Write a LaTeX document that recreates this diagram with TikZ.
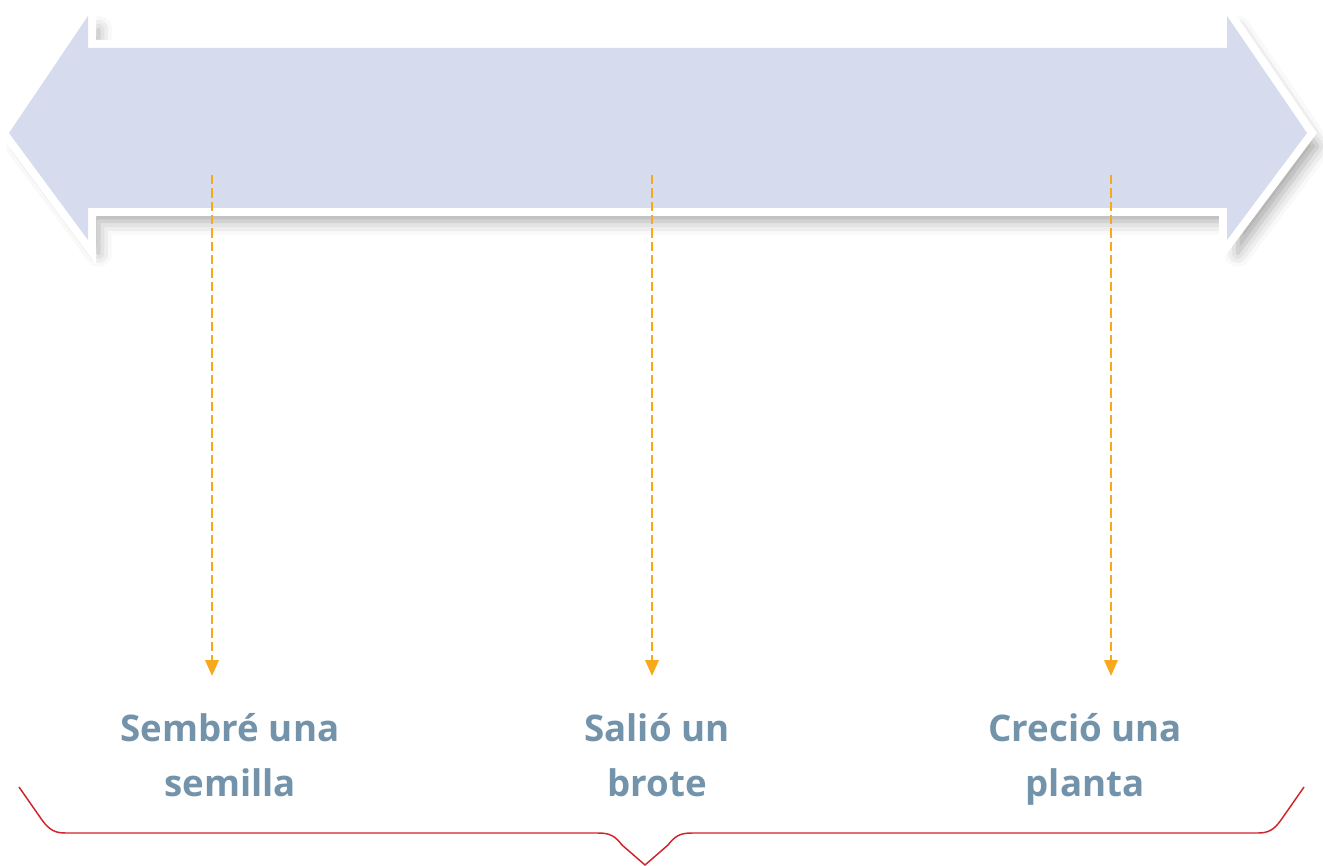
\documentclass[tikz,border=0pt]{standalone}
\usepackage{fontspec}
\setmainfont{Open Sans}
\usetikzlibrary{arrows.meta,shadows.blur}
\definecolor{arrowfill}{HTML}{D7DBEE}
\definecolor{dashorange}{HTML}{F7A81B}
\definecolor{labelblue}{HTML}{7393AB}
\definecolor{bracered}{HTML}{D0232A}
\tikzset{
  bigarrow/.style={fill=arrowfill},
  bigarrowborder/.style={draw=white, fill=white, line width=12pt, line join=miter,
    blur shadow={shadow xshift=8pt, shadow yshift=-10pt, shadow blur radius=10pt, shadow opacity=35}},
  timelink/.style={dashorange, line width=1.8pt, dash pattern=on 7pt off 3pt,
    -{Triangle[length=12pt,width=10pt]}},
  label/.style={text=labelblue, font=\fontsize{27.5}{41}\selectfont\bfseries, align=center,
    inner sep=0pt, text height=22pt, text depth=8pt},
  brace/.style={draw=bracered, line width=1.1pt, line join=round}
}
\begin{document}
\begin{tikzpicture}[x=0.75pt,y=-0.75pt]
\useasboundingbox (0,0) rectangle (1323,866);
% double arrow
\path[bigarrowborder] (9,133) -- (88,16) -- (88,48) -- (1227,48) -- (1227,16) -- (1307,133)
  -- (1227,240) -- (1227,208) -- (88,208) -- (88,240) -- cycle;
\path[bigarrow] (9,133) -- (88,16) -- (88,48) -- (1227,48) -- (1227,16) -- (1307,133)
  -- (1227,240) -- (1227,208) -- (88,208) -- (88,240) -- cycle;
% labels
\node[label] (t1) at (230,787) {Sembré una\\semilla};
\node[label] (t2) at (657,787) {Salió un\\brote};
\node[label] (t3) at (1085,787) {Creció una\\planta};
% dashed links
\coordinate (s1) at (212,175); \coordinate (e1) at (212,676);
\coordinate (s2) at (652,175); \coordinate (e2) at (652,676);
\coordinate (s3) at (1111,175); \coordinate (e3) at (1111,676);
\draw[timelink] (s1) -- (e1);
\draw[timelink] (s2) -- (e2);
\draw[timelink] (s3) -- (e3);
% brace
\coordinate (bl) at (19,787);
\coordinate (bm) at (645,865);
\coordinate (br) at (1304,787);
\draw[brace] (bl) -- (42,820) .. controls (50,831) and (56,833) .. (66,833)
  -- (598,833) .. controls (610,833) and (615,836) .. (622,845) -- (bm)
  -- (668,845) .. controls (675,836) and (680,833) .. (692,833)
  -- (1258,833) .. controls (1268,833) and (1274,830) .. (1281,820) -- (br);
\end{tikzpicture}
\end{document}
